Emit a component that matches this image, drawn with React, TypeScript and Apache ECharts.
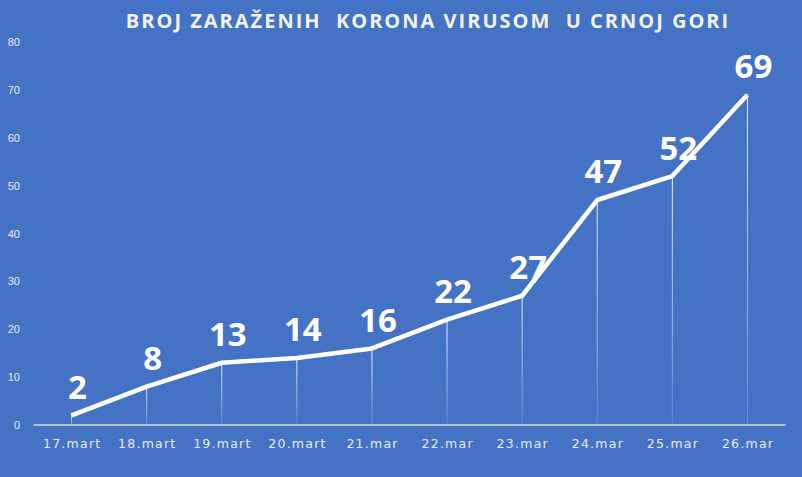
import React, { useEffect, useRef } from "react";
import * as echarts from "echarts";

const categories = ["17.mart", "18.mart", "19.mart", "20.mart", "21.mar", "22.mar", "23.mar", "24.mar", "25.mar", "26.mar"];
const cases = [2, 8, 13, 14, 16, 22, 27, 47, 52, 69];
const titleText = "BROJ ZARAŽENIH  KORONA VIRUSOM  U CRNOJ GORI";

const spaced = (s: string) => s.split("").join("\u200A");

export default function App() {
  const ref = useRef<HTMLDivElement>(null);
  useEffect(() => {
    const chart = echarts.init(ref.current!, null, { renderer: "svg" });
    chart.setOption({
      animation: false,
      backgroundColor: "#4472C4",
      title: {
        text: spaced(titleText),
        left: 422,
        textAlign: "center",
        top: 5,
        textStyle: { color: "#F2F2F2", fontSize: 20, fontWeight: "bold", fontFamily: "Open Sans" },
      },
      grid: { left: 34, right: 17, top: 42, bottom: 52 },
      xAxis: {
        type: "category",
        data: categories,
        boundaryGap: true,
        axisLine: { lineStyle: { color: "#D9D9D9", width: 1.5 } },
        axisTick: { show: false },
        axisLabel: {
          color: "#E8ECF5",
          fontSize: 12.5,
          margin: 12,
          fontFamily: "DejaVu Sans",
          formatter: (v: string) => spaced(v),
        },
      },
      yAxis: {
        type: "value",
        min: 0,
        max: 80,
        interval: 10,
        axisLine: { show: false },
        axisTick: { show: false },
        splitLine: { show: false },
        axisLabel: { color: "#E8ECF5", fontSize: 11, margin: 14, fontFamily: "Liberation Sans", align: "right" },
      },
      series: [
        {
          type: "bar",
          data: cases,
          barWidth: 1,
          silent: true,
          itemStyle: {
            color: new echarts.graphic.LinearGradient(0, 0, 0, 1, [
              { offset: 0, color: "rgba(255,255,255,0.9)" },
              { offset: 1, color: "rgba(255,255,255,0.15)" },
            ]),
          },
          z: 1,
        },
        {
          type: "line",
          data: cases,
          showSymbol: true,
          symbol: "circle",
          symbolSize: 1,
          itemStyle: { color: "#FFFFFF" },
          lineStyle: { color: "#FFFFFF", width: 4.5 },
          z: 3,
          label: {
            show: true,
            position: "top",
            distance: 12,
            offset: [6, 0],
            color: "#FFFFFF",
            fontSize: 33,
            fontWeight: "bold",
            fontFamily: "Open Sans",
          },
        },
      ],
    });
    return () => chart.dispose();
  }, []);
  return <div ref={ref} style={{ position: "fixed", left: 0, top: 0, width: 802, height: 477 }} />;
}
